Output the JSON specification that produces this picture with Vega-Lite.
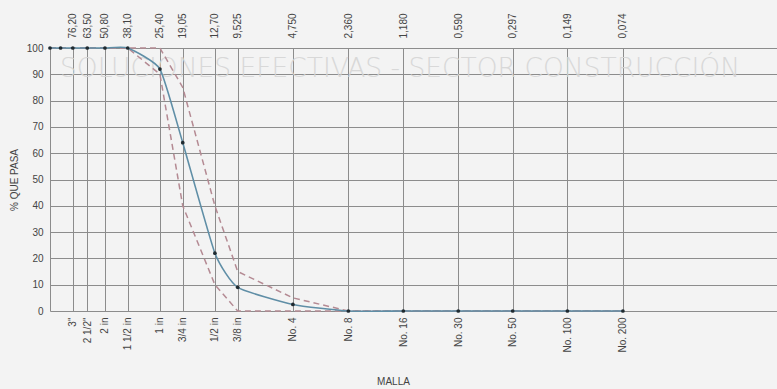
{
  "$schema": "https://vega.github.io/schema/vega-lite/v6.json",
  "width": 727,
  "height": 263,
  "autosize": {"type": "none"},
  "padding": {"left": 50, "top": 48, "right": 0, "bottom": 78},
  "background": "#f3f3f3",
  "config": {
    "view": {"stroke": null},
    "font": "Liberation Sans",
    "axis": {"labelFont": "Liberation Sans", "titleFont": "Liberation Sans", "labelColor": "#444444", "titleColor": "#444444", "labelFontSize": 10, "titleFontSize": 10, "titleFontWeight": "normal"}
  },
  "datasets": {
    "main": [
      {"size": 101.6, "pass": 100}, {"size": 88.9, "pass": 100}, {"size": 76.2, "pass": 100},
      {"size": 63.5, "pass": 100}, {"size": 50.8, "pass": 100}, {"size": 38.1, "pass": 100},
      {"size": 25.4, "pass": 92}, {"size": 19.05, "pass": 64}, {"size": 12.7, "pass": 22},
      {"size": 9.525, "pass": 9}, {"size": 4.75, "pass": 2.5}, {"size": 2.36, "pass": 0},
      {"size": 1.18, "pass": 0}, {"size": 0.59, "pass": 0}, {"size": 0.297, "pass": 0},
      {"size": 0.149, "pass": 0}, {"size": 0.074, "pass": 0}
    ],
    "limits": [
      {"limit": "upper", "size": 101.6, "pass": 100}, {"limit": "upper", "size": 38.1, "pass": 100},
      {"limit": "upper", "size": 25.4, "pass": 100}, {"limit": "upper", "size": 19.05, "pass": 85},
      {"limit": "upper", "size": 12.7, "pass": 40}, {"limit": "upper", "size": 9.525, "pass": 15},
      {"limit": "upper", "size": 4.75, "pass": 5}, {"limit": "upper", "size": 2.36, "pass": 0},
      {"limit": "upper", "size": 0.074, "pass": 0},
      {"limit": "lower", "size": 101.6, "pass": 100}, {"limit": "lower", "size": 38.1, "pass": 100},
      {"limit": "lower", "size": 25.4, "pass": 90}, {"limit": "lower", "size": 19.05, "pass": 40},
      {"limit": "lower", "size": 12.7, "pass": 10}, {"limit": "lower", "size": 9.525, "pass": 0},
      {"limit": "lower", "size": 4.75, "pass": 0}, {"limit": "lower", "size": 2.36, "pass": 0},
      {"limit": "lower", "size": 0.074, "pass": 0}
    ],
    "slogan": [
      {"size": 89.6, "pass": 92, "text": "SOLUCIONES EFECTIVAS - SECTOR CONSTRUCCIÓN"}
    ]
  },
  "encoding": {
    "y": {"field": "pass", "type": "quantitative", "scale": {"domain": [0, 100], "nice": false},
      "axis": {"values": [0, 10, 20, 30, 40, 50, 60, 70, 80, 90, 100], "grid": true, "gridColor": "#8c8c8c", "gridWidth": 1, "gridOpacity": 1,
        "ticks": false, "domain": true, "domainColor": "#8c8c8c", "labelPadding": 7, "title": "% QUE PASA", "titlePadding": 7}}
  },
  "resolve": {"axis": {"x": "independent"}},
  "layer": [
    {
      "data": {"name": "slogan"},
      "mark": {"type": "text", "align": "left", "baseline": "middle", "font": "DejaVu Sans", "fontWeight": 200, "fontSize": 26.5, "color": "#d6d6d6", "opacity": 0.9},
      "encoding": {
        "x": {"field": "size", "type": "quantitative", "scale": {"type": "log", "domain": [0.0106, 101.6], "reverse": true, "nice": false}, "axis": null},
        "text": {"field": "text"}
      }
    },
    {
      "data": {"name": "limits"},
      "mark": {"type": "line", "strokeWidth": 1.5, "strokeDash": [6, 4], "color": "#b48a93"},
      "encoding": {
        "x": {"field": "size", "type": "quantitative",
          "axis": {"orient": "top", "values": [76.2, 63.5, 50.8, 38.1, 25.4, 19.05, 12.7, 9.525, 4.75, 2.36, 1.18, 0.59, 0.297, 0.149, 0.074],
            "labelExpr": "['76,20','63,50','50,80','38,10','25,40','19,05','12,70','9,525','4,750','2,360','1,180','0,590','0,297','0,149','0,074'][indexof([76.2, 63.5, 50.8, 38.1, 25.4, 19.05, 12.7, 9.525, 4.75, 2.36, 1.18, 0.59, 0.297, 0.149, 0.074], datum.value)]",
            "labelAngle": -90, "labelAlign": "left", "labelBaseline": "middle", "labelPadding": 10,
            "ticks": false, "domain": false, "grid": false, "title": null, "labelOverlap": false, "labelFlush": false}},
        "detail": {"field": "limit"},
        "order": {"field": "size", "sort": "descending"}
      }
    },
    {
      "data": {"name": "main"},
      "mark": {"type": "line", "strokeWidth": 1.6, "color": "#5f8ea6", "interpolate": "cardinal", "tension": 0.5},
      "encoding": {
        "x": {"field": "size", "type": "quantitative",
          "axis": {"orient": "bottom", "values": [76.2, 63.5, 50.8, 38.1, 25.4, 19.05, 12.7, 9.525, 4.75, 2.36, 1.18, 0.59, 0.297, 0.149, 0.074],
            "labelExpr": "['3\"','2 1/2\"','2 in','1 1/2 in','1 in','3/4 in','1/2 in','3/8 in','No. 4','No. 8','No. 16','No. 30','No. 50','No. 100','No. 200'][indexof([76.2, 63.5, 50.8, 38.1, 25.4, 19.05, 12.7, 9.525, 4.75, 2.36, 1.18, 0.59, 0.297, 0.149, 0.074], datum.value)]",
            "labelAngle": -90, "labelAlign": "right", "labelBaseline": "middle", "labelPadding": 6,
            "ticks": false, "domain": false, "grid": true, "gridColor": "#8c8c8c", "gridWidth": 1, "gridOpacity": 1,
            "labelOverlap": false, "labelFlush": false,
            "title": "MALLA", "titleX": 343, "titleY": 70, "titleBaseline": "middle", "titleAlign": "center"}},
        "order": {"field": "size", "sort": "descending"}
      }
    },
    {
      "data": {"name": "main"},
      "mark": {"type": "point", "filled": true, "size": 14, "color": "#1f2a30", "opacity": 1},
      "encoding": {
        "x": {"field": "size", "type": "quantitative", "axis": null}
      }
    }
  ]
}
